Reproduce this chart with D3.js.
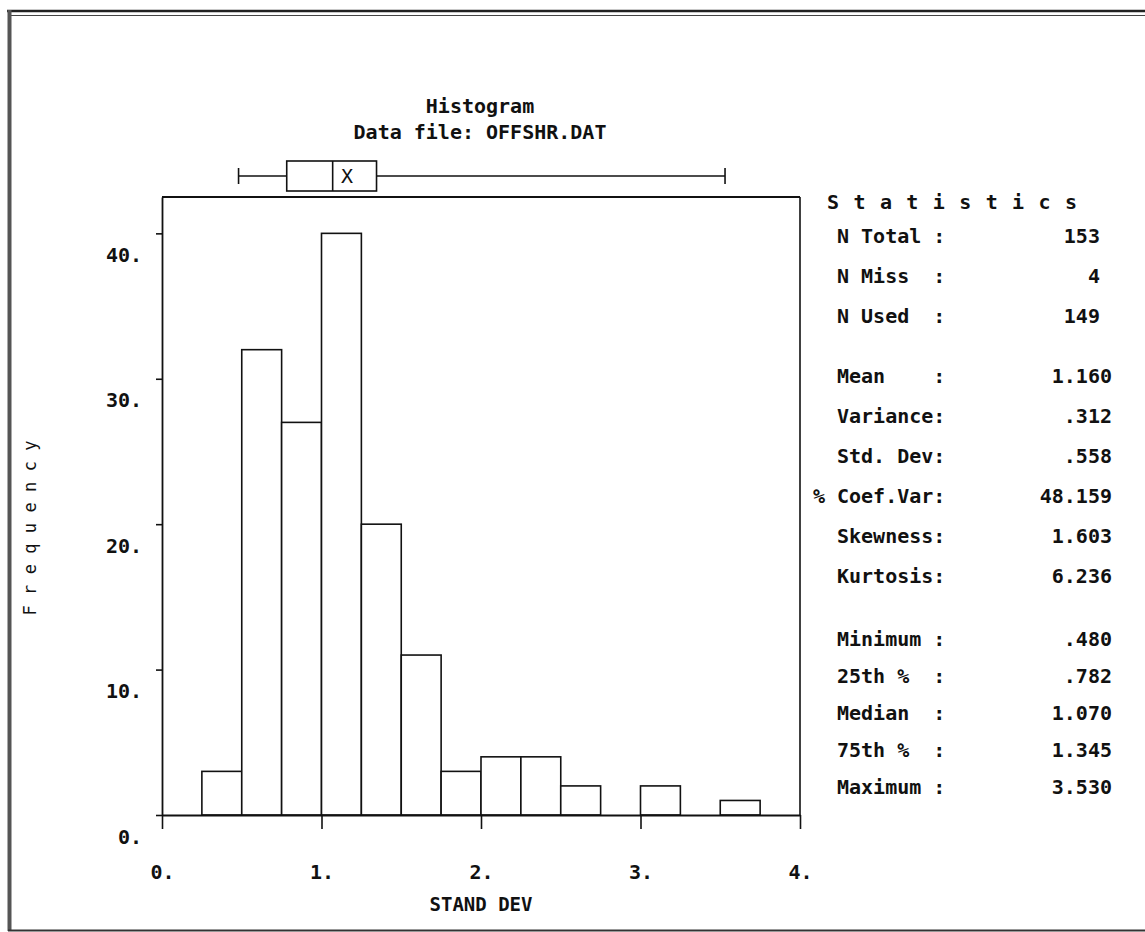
<!DOCTYPE html>
<html>
<head>
<meta charset="utf-8">
<script src="https://cdn.jsdelivr.net/npm/d3@7"></script>
<style>
  html, body { margin: 0; padding: 0; background: #fff; }
  svg { display: block; }
  text { font-family: "DejaVu Sans Mono", "Liberation Mono", monospace; fill: #111; }
</style>
</head>
<body>
<svg id="chart" width="1145" height="932"></svg>
<script>
// ---- data ----
const binStarts = [0.25, 0.5, 0.75, 1.0, 1.25, 1.5, 1.75, 2.0, 2.25, 2.5, 2.75, 3.0, 3.25, 3.5];
const binWidth = 0.25;
const counts = [3, 32, 27, 40, 20, 11, 3, 4, 4, 2, 0, 2, 0, 1];

const xTicks = [0, 1, 2, 3, 4];
const xTickLabels = ["0.", "1.", "2.", "3.", "4."];
const yTicks = [0, 10, 20, 30, 40];
const yTickLabels = ["0.", "10.", "20.", "30.", "40."];

const boxMin = 0.480, boxQ1 = 0.782, boxMedian = 1.070, boxQ3 = 1.345, boxMax = 3.530, boxMean = 1.160;

const titleLines = ["Histogram", "Data file: OFFSHR.DAT"];
const xTitle = "STAND DEV";
const yTitle = "Frequency";
const statsTitle = "Statistics";

const statLabels = ["N Total :", "N Miss  :", "N Used  :", "Mean    :", "Variance:", "Std. Dev:", "% Coef.Var:", "Skewness:", "Kurtosis:", "Minimum :", "25th %  :", "Median  :", "75th %  :", "Maximum :"];
const statValues = ["153", "4", "149", "1.160", ".312", ".558", "48.159", "1.603", "6.236", ".480", ".782", "1.070", "1.345", "3.530"];
const statIsInt = [true, true, true, false, false, false, false, false, false, false, false, false, false, false];
const statGroup = [0, 0, 0, 1, 1, 1, 1, 1, 1, 2, 2, 2, 2, 2];

// ---- layout ----
const svg = d3.select("#chart");
const plotL = 162, plotR = 800, plotT = 197, plotB = 815;

const x = d3.scaleLinear().domain([0, 4]).range([plotL, plotR]);
const y = d3.scaleLinear().domain([0, 42.5]).range([plotB, plotT]);

// outer frame (scanned printout border)
svg.append("line").attr("x1", 7).attr("x2", 1145).attr("y1", 11).attr("y2", 11).attr("stroke", "#222").attr("stroke-width", 2.5);
svg.append("line").attr("x1", 10).attr("x2", 1145).attr("y1", 15.5).attr("y2", 15.5).attr("stroke", "#444").attr("stroke-width", 1.2);
svg.append("line").attr("x1", 9.5).attr("x2", 9.5).attr("y1", 10).attr("y2", 931).attr("stroke", "#555").attr("stroke-width", 4);
svg.append("line").attr("x1", 8).attr("x2", 1145).attr("y1", 930.5).attr("y2", 930.5).attr("stroke", "#333").attr("stroke-width", 2);

// titles
svg.append("g").selectAll("text").data(titleLines).join("text")
  .attr("x", 480).attr("y", (d, i) => 107 + i * 26)
  .attr("text-anchor", "middle").attr("dominant-baseline", "middle")
  .attr("font-size", 20).attr("font-weight", "bold")
  .text(d => d);

// box plot above the histogram
const bp = svg.append("g").attr("stroke", "#111").attr("stroke-width", 1.6).attr("fill", "none");
const bpY = 176, bpH = 30;
bp.append("line").attr("x1", x(boxMin)).attr("x2", x(boxQ1)).attr("y1", bpY).attr("y2", bpY);
bp.append("line").attr("x1", x(boxQ3)).attr("x2", x(boxMax)).attr("y1", bpY).attr("y2", bpY);
bp.append("line").attr("x1", x(boxMin)).attr("x2", x(boxMin)).attr("y1", bpY - 8).attr("y2", bpY + 8);
bp.append("line").attr("x1", x(boxMax)).attr("x2", x(boxMax)).attr("y1", bpY - 8).attr("y2", bpY + 8);
bp.append("rect").attr("x", x(boxQ1)).attr("y", bpY - bpH / 2).attr("width", x(boxQ3) - x(boxQ1)).attr("height", bpH).attr("fill", "#fff");
bp.append("line").attr("x1", x(boxMedian)).attr("x2", x(boxMedian)).attr("y1", bpY - bpH / 2).attr("y2", bpY + bpH / 2);
svg.append("text").attr("x", x(boxMean)).attr("y", bpY + 1)
  .attr("text-anchor", "middle").attr("dominant-baseline", "middle")
  .attr("font-size", 20).attr("font-family", "DejaVu Sans Condensed, DejaVu Sans").attr("font-weight", "normal")
  .text("X");

// histogram bars
svg.append("g").selectAll("rect").data(binStarts.map((s, i) => ({ s, c: counts[i] })).filter(d => d.c > 0)).join("rect")
  .attr("x", d => x(d.s)).attr("width", d => x(d.s + binWidth) - x(d.s))
  .attr("y", d => y(d.c)).attr("height", d => y(0) - y(d.c))
  .attr("fill", "#fff").attr("stroke", "#111").attr("stroke-width", 1.6);

// plot frame: top and right
svg.append("line").attr("x1", plotL).attr("x2", plotR).attr("y1", plotT).attr("y2", plotT).attr("stroke", "#111").attr("stroke-width", 1.8);
svg.append("line").attr("x1", plotR).attr("x2", plotR).attr("y1", plotT).attr("y2", plotB).attr("stroke", "#111").attr("stroke-width", 1.6);

// x axis
const xAxis = d3.axisBottom(x).tickValues(xTicks).tickFormat((d, i) => xTickLabels[i]).tickSize(14).tickSizeOuter(0).tickPadding(36);
const gx = svg.append("g").attr("transform", `translate(0,${plotB})`).call(xAxis);
gx.select(".domain").attr("stroke", "#111").attr("stroke-width", 1.8);
gx.selectAll(".tick line").attr("stroke", "#111").attr("stroke-width", 1.6);
gx.selectAll(".tick text").attr("font-size", 20).attr("font-weight", "bold").attr("fill", "#111")
  .attr("font-family", "DejaVu Sans Mono");

// y axis
const yAxis = d3.axisLeft(y).tickValues(yTicks).tickFormat((d, i) => yTickLabels[i]).tickSize(6).tickSizeOuter(0).tickPadding(14);
const gy = svg.append("g").attr("transform", `translate(${plotL},0)`).call(yAxis);
gy.select(".domain").attr("stroke", "#111").attr("stroke-width", 1.8);
gy.selectAll(".tick line").attr("stroke", "#111").attr("stroke-width", 1.6);
gy.selectAll(".tick text").attr("font-size", 20).attr("font-weight", "bold").attr("fill", "#111")
  .attr("font-family", "DejaVu Sans Mono").attr("dy", "1.4em");

// axis titles
svg.append("text").attr("x", (plotL + plotR) / 2).attr("y", 905)
  .attr("text-anchor", "middle").attr("dominant-baseline", "middle")
  .attr("font-size", 19).attr("font-weight", "bold").text(xTitle);
svg.append("text").attr("transform", "translate(31,528) rotate(-90)")
  .attr("text-anchor", "middle").attr("dominant-baseline", "middle")
  .attr("font-size", 17).attr("font-family", "DejaVu Sans Mono").attr("fill", "#444")
  .attr("textLength", 175).attr("lengthAdjust", "spacing").text(yTitle);

// statistics panel
svg.append("text").attr("x", 827).attr("y", 203).attr("dominant-baseline", "middle")
  .attr("font-size", 20).attr("font-weight", "bold")
  .attr("textLength", 250).attr("lengthAdjust", "spacing").text(statsTitle);

const rowStart = [237, 377, 640];
const rowStep = [40, 40, 37];
const rowIdx = [0, 1, 2, 0, 1, 2, 3, 4, 5, 0, 1, 2, 3, 4];
const rowY = statLabels.map((d, i) => rowStart[statGroup[i]] + rowIdx[i] * rowStep[statGroup[i]]);

const charW = 12.04;
svg.append("g").selectAll("text").data(statLabels).join("text")
  .attr("x", d => d.startsWith("%") ? 837 - 2 * charW : 837)
  .attr("y", (d, i) => rowY[i]).attr("dominant-baseline", "middle")
  .attr("font-size", 20).attr("font-weight", "bold").attr("xml:space", "preserve")
  .style("white-space", "pre")
  .text(d => d);
svg.append("g").selectAll("text").data(statValues).join("text")
  .attr("x", (d, i) => statIsInt[i] ? 1112 - charW : 1112)
  .attr("y", (d, i) => rowY[i]).attr("dominant-baseline", "middle")
  .attr("text-anchor", "end")
  .attr("font-size", 20).attr("font-weight", "bold")
  .text(d => d);
</script>
</body>
</html>
